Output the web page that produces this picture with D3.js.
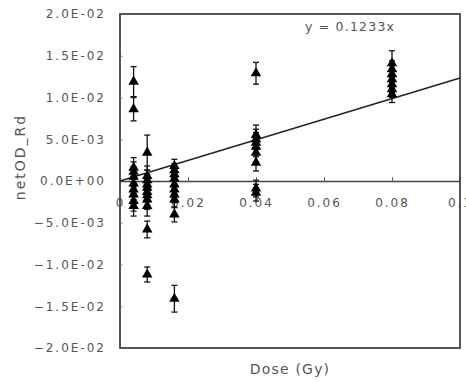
<!DOCTYPE html>
<html>
<head>
<meta charset="utf-8">
<script src="https://cdn.jsdelivr.net/npm/d3@7"></script>
<style>
  body { margin: 0; background: #fff; }
  svg { display: block; }
  text { font-family: "DejaVu Sans", sans-serif; fill: #555; }
</style>
</head>
<body>
<div id="chart"></div>
<script>
// Dose groups (Gy) and measured netOD values with error bars
const dose = [
    0.004, 0.004, 0.004, 0.004, 0.004, 0.004, 0.004, 0.004, 0.004, 0.004,
    0.008, 0.008, 0.008, 0.008, 0.008, 0.008, 0.008, 0.008, 0.008, 0.008, 0.008,
    0.016, 0.016, 0.016, 0.016, 0.016, 0.016, 0.016, 0.016, 0.016, 0.016,
    0.04, 0.04, 0.04, 0.04, 0.04, 0.04, 0.04, 0.04, 0.04,
    0.08, 0.08, 0.08, 0.08, 0.08, 0.08, 0.08
];
const netOD = [
    0.0119, 0.0086, 0.0016, 0.0011, 0.0005, -0.0003, -0.0010, -0.0016, -0.0024, -0.0030,
    0.0034, 0.0006, 0.0001, -0.0004, -0.0008, -0.0013, -0.0017, -0.0022, -0.0030, -0.0058, -0.0112,
    0.0018, 0.0013, 0.0008, 0.0003, -0.0004, -0.0010, -0.0016, -0.0022, -0.0040, -0.0141,
    0.0129, 0.0055, 0.0050, 0.0046, 0.0041, 0.0034, 0.0022, -0.0009, -0.0014,
    0.0141, 0.0134, 0.0128, 0.0122, 0.0116, 0.0110, 0.0104
];
const errOD = [
    0.0018, 0.0014, 0.0012, 0.0012, 0.0012, 0.0012, 0.0012, 0.0012, 0.0012, 0.0012,
    0.0021, 0.0012, 0.0012, 0.0012, 0.0012, 0.0012, 0.0012, 0.0012, 0.0012, 0.0010, 0.0009,
    0.0008, 0.0008, 0.0008, 0.0008, 0.0008, 0.0010, 0.0010, 0.0010, 0.0009, 0.0016,
    0.0013, 0.0012, 0.0012, 0.0012, 0.0012, 0.0012, 0.0010, 0.0010, 0.0010,
    0.0015, 0.0010, 0.0010, 0.0010, 0.0010, 0.0010, 0.0010
];
const slope = 0.1233;
const xTicks = [0, 0.02, 0.04, 0.06, 0.08, 0.1];
const yTicks = [0.02, 0.015, 0.01, 0.005, 0, -0.005, -0.01, -0.015, -0.02];

const width = 466, height = 382;
const margin = { top: 14, right: 6, bottom: 34, left: 120 };

const svg = d3.select("#chart").append("svg")
    .attr("width", width)
    .attr("height", height);

const x = d3.scaleLinear().domain([0, 0.1]).range([margin.left, width - margin.right]);
const y = d3.scaleLinear().domain([-0.02, 0.02]).range([height - margin.bottom, margin.top]);

// Excel-like exponent format: 2.0E-02
function expFormat(v) {
    if (v === 0) return "0.0E+00";
    const [m, e] = d3.format(".1e")(v).split("e");
    const n = +e;
    return m + "E" + (n < 0 ? "-" : "+") + String(Math.abs(n)).padStart(2, "0");
}

// left axis: labels outside, small ticks inside
const yAxis = svg.append("g")
    .attr("transform", `translate(${margin.left},0)`)
    .call(d3.axisLeft(y).tickValues(yTicks).tickFormat(expFormat)
        .tickSizeInner(-3).tickSizeOuter(0).tickPadding(14));
yAxis.select(".domain").remove();
yAxis.selectAll(".tick line").attr("stroke", "#aaa");
yAxis.selectAll(".tick text")
    .style("font-size", "12px")
    .style("letter-spacing", "2px")
    .attr("fill", "#5a5a5a");

// x axis on the zero line
const xAxis = svg.append("g")
    .attr("transform", `translate(0,${y(0)})`)
    .call(d3.axisBottom(x).tickValues(xTicks).tickFormat(d => d === 0 ? "0" : d3.format("")(d))
        .tickSizeInner(-4).tickSizeOuter(0).tickPadding(17));
xAxis.select(".domain").attr("stroke", "#444").attr("stroke-width", 1.6);
xAxis.selectAll(".tick line").attr("stroke", "#666");
xAxis.selectAll(".tick text")
    .style("font-size", "12px")
    .style("letter-spacing", "2px")
    .attr("fill", "#5a5a5a");

// plot border
svg.append("rect")
    .attr("x", x(0))
    .attr("y", y(0.02))
    .attr("width", x(0.1) - x(0))
    .attr("height", y(-0.02) - y(0.02))
    .attr("fill", "none")
    .attr("stroke", "#444")
    .attr("stroke-width", 1.8);

// linear trend line through origin
svg.append("line")
    .attr("x1", x(0)).attr("y1", y(0))
    .attr("x2", x(0.1)).attr("y2", y(slope * 0.1))
    .attr("stroke", "#222")
    .attr("stroke-width", 1.4);

const points = dose.map((d, i) => ({ x: d, y: netOD[i], e: errOD[i] }));

// error bars
const bars = svg.append("g").attr("stroke", "#111").attr("stroke-width", 1.3);
points.forEach(p => {
    const cx = x(p.x);
    bars.append("line").attr("x1", cx).attr("x2", cx).attr("y1", y(p.y + p.e)).attr("y2", y(p.y - p.e));
    bars.append("line").attr("x1", cx - 3).attr("x2", cx + 3).attr("y1", y(p.y + p.e)).attr("y2", y(p.y + p.e));
    bars.append("line").attr("x1", cx - 3).attr("x2", cx + 3).attr("y1", y(p.y - p.e)).attr("y2", y(p.y - p.e));
});

// triangle markers
svg.append("g").selectAll("path")
    .data(points)
    .enter().append("path")
    .attr("d", d3.symbol().type(d3.symbolTriangle).size(48))
    .attr("transform", d => `translate(${x(d.x)},${y(d.y)})`)
    .attr("fill", "#000");

// trend equation
svg.append("text")
    .attr("x", 305)
    .attr("y", 31)
    .style("font-size", "12.5px")
    .style("letter-spacing", "1.2px")
    .attr("fill", "#333")
    .text("y = " + slope + "x");

// axis titles
svg.append("text")
    .attr("transform", `translate(25,157) rotate(-90)`)
    .attr("text-anchor", "middle")
    .style("font-size", "14px")
    .style("letter-spacing", "2px")
    .text("netOD_Rd");

svg.append("text")
    .attr("x", 290)
    .attr("y", 374)
    .attr("text-anchor", "middle")
    .style("font-size", "14px")
    .style("letter-spacing", "1.2px")
    .text("Dose (Gy)");
</script>
</body>
</html>
